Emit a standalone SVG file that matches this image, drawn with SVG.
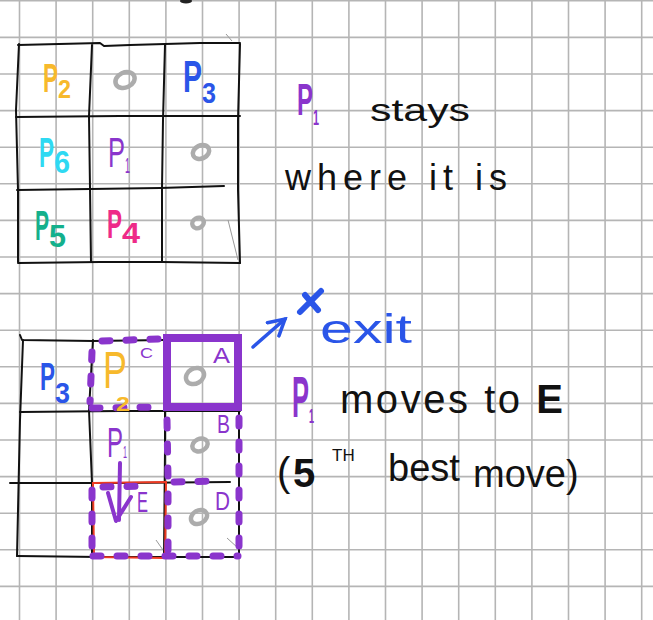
<svg xmlns="http://www.w3.org/2000/svg" width="653" height="620" viewBox="0 0 653 620">
<style>
  .grid{stroke:#b5b5b5;stroke-width:1.6;fill:none}
  .ink{stroke:#111;stroke-width:2;fill:none;stroke-linejoin:round;stroke-linecap:round}
  .faint{stroke:#999;stroke-width:1;fill:none}
  .o{fill:none;stroke:#acacac;stroke-width:4.5}
  .t{font-family:"Liberation Sans",Arial,sans-serif}
  .b{font-weight:bold}
  .blk{fill:#111}
  .pur{fill:#8a35cc}
  .yel{fill:#f7b92c}
  .blu{fill:#2a55e8}
  .cya{fill:#2fd9f2}
  .grn{fill:#14b08c}
  .pnk{fill:#ee2a88}
  .dots{fill:none;stroke:#8a35cc;stroke-width:7;stroke-linecap:round;stroke-dasharray:8 16}
</style>
<defs>
  <marker id="arrowBlue" viewBox="0 0 12 12" refX="10" refY="6" markerWidth="6" markerHeight="6" orient="auto" markerUnits="strokeWidth">
    <path d="M1,1 L10,6 L1,11" fill="none" stroke="#2a55e8" stroke-width="2" stroke-linecap="round"/>
  </marker>
</defs>
<rect width="653" height="620" fill="#ffffff"/>
<g id="grid-paper" class="grid">
  <path d="M19.5,0V620M56.1,0V620M92.7,0V620M129.3,0V620M165.9,0V620M202.5,0V620M239.1,0V620M275.7,0V620M312.3,0V620M348.9,0V620M385.5,0V620M422.1,0V620M458.7,0V620M495.3,0V620M531.9,0V620M568.5,0V620M605.1,0V620M641.7,0V620"/>
  <path d="M0,0.8H653M0,37.4H653M0,74H653M0,110.6H653M0,147.2H653M0,183.8H653M0,220.4H653M0,257H653M0,293.6H653M0,330.2H653M0,366.8H653M0,403.4H653M0,440H653M0,476.6H653M0,513.2H653M0,549.8H653M0,586.4H653"/>
</g>
<ellipse cx="186" cy="1" rx="6" ry="2.5" fill="#222"/>
<g id="board-1">
  <g id="board-1-lines" class="ink">
    <path d="M18,45 L100,43 L104,46 L130,45 L200,43 L240,43"/>
    <path d="M19,44 L16,110 L18,190 L18,262"/>
    <path d="M240,44 L238,120 L238,190 L240,263"/>
    <path d="M18,263 L100,262 L162,262 L240,263"/>
    <path d="M92,45 L89,116 L90,188 L91,262"/>
    <path d="M165,45 L163,120 L162,188 L162,262"/>
    <path d="M16,117 L120,116 L240,116"/>
    <path d="M17,190 L90,189 L160,188 L224,186"/>
  </g>
  <g class="faint">
    <path d="M226,34 L232,41"/>
    <path d="M228,220 L238,260"/>
  </g>
  <g id="b1-p2"><text class="t b yel" x="43" y="92" font-size="40"><tspan textLength="15" lengthAdjust="spacingAndGlyphs">P</tspan><tspan dy="6" font-size="25" textLength="13" lengthAdjust="spacingAndGlyphs">2</tspan></text></g>
  <g id="b1-empty-top"><ellipse class="o" cx="125" cy="80" rx="10" ry="7.5" transform="rotate(-25 125 80)"/></g>
  <g id="b1-p3"><text class="t b blu" x="183" y="92" font-size="44"><tspan textLength="19" lengthAdjust="spacingAndGlyphs">P</tspan><tspan dy="11" font-size="30" textLength="14" lengthAdjust="spacingAndGlyphs">3</tspan></text></g>
  <g id="b1-p6"><text class="t b cya" x="39" y="167" font-size="42"><tspan textLength="15" lengthAdjust="spacingAndGlyphs">P</tspan><tspan dy="6" font-size="31" textLength="16" lengthAdjust="spacingAndGlyphs">6</tspan></text></g>
  <g id="b1-p1"><text class="t pur" x="108" y="167" font-size="42"><tspan textLength="17" lengthAdjust="spacingAndGlyphs">P</tspan><tspan dy="6" font-size="22" textLength="5" lengthAdjust="spacingAndGlyphs">1</tspan></text></g>
  <g id="b1-empty-right"><ellipse class="o" cx="201" cy="152" rx="8.5" ry="6.5" transform="rotate(-25 201 152)"/></g>
  <g id="b1-p5"><text class="t b grn" x="35" y="240" font-size="42"><tspan textLength="14" lengthAdjust="spacingAndGlyphs">P</tspan><tspan dy="7" font-size="32" textLength="17" lengthAdjust="spacingAndGlyphs">5</tspan></text></g>
  <g id="b1-p4"><text class="t b pnk" x="107" y="238" font-size="40"><tspan textLength="15" lengthAdjust="spacingAndGlyphs">P</tspan><tspan dy="5" font-size="30" textLength="18" lengthAdjust="spacingAndGlyphs">4</tspan></text></g>
  <g id="b1-empty-bottom"><ellipse class="o" cx="198" cy="223" rx="6" ry="5" transform="rotate(-30 198 223)"/></g>
</g>
<g id="note-1">
  <text class="t pur b" x="297" y="115" font-size="44"><tspan textLength="16" lengthAdjust="spacingAndGlyphs">P</tspan><tspan dy="10" font-size="22" textLength="6" lengthAdjust="spacingAndGlyphs">1</tspan></text>
  <text class="t blk" x="370" y="121" font-size="32" textLength="100" lengthAdjust="spacingAndGlyphs">stays</text>
  <text class="t blk" x="285" y="190" font-size="36" textLength="222" lengthAdjust="spacing">where it is</text>
</g>
<g id="board-2">
  <g id="board-2-lines" class="ink">
    <path d="M20,335 L22,340 L93,341 L165,340 L240,339"/>
    <path d="M23,340 L20,420 L17,556"/>
    <path d="M17,556 L100,557 L240,557"/>
    <path d="M239,339 L239,556"/>
    <path d="M93,340 L89,410 L92,483 L92,556"/>
    <path d="M165,340 L165,450 L164,556"/>
    <path d="M20,412 L120,411 L240,411"/>
    <path d="M10,483 L120,483 L230,482"/>
  </g>
  <g class="faint">
    <path d="M156,540 L163,550"/>
    <path d="M227,538 L238,548"/>
  </g>
  <g id="cell-E-box"><path d="M93,483 L166,482 L165,558 L94,557 Z" fill="none" stroke="#ee3a22" stroke-width="2"/></g>
  <g id="cell-C-outline" class="dots">
    <path d="M102,341 L158,339"/>
    <path d="M92,352 L90,402"/>
    <path d="M92,408 L160,407"/>
  </g>
  <g id="cell-BD-outline" class="dots">
    <path d="M167,420 L168,478"/>
    <path d="M174,482 L214,481"/>
    <path d="M239,418 L239,552"/>
    <path d="M93,556 L238,556"/>
  </g>
  <g id="cell-E-outline" class="dots">
    <path d="M92,490 L92,550"/>
    <path d="M103,487 L150,486"/>
    <path d="M168,494 L168,550"/>
  </g>
  <g id="cell-A"><rect x="167" y="338" width="71" height="69" fill="none" stroke="#8a35cc" stroke-width="8"/>
    <text class="t pur" x="213" y="363" font-size="22" textLength="17" lengthAdjust="spacingAndGlyphs">A</text>
    <ellipse class="o" cx="195" cy="376" rx="9.5" ry="7.5" transform="rotate(-30 195 376)"/></g>
  <g id="b2-p3"><text class="t b blu" x="40" y="390" font-size="38"><tspan textLength="15" lengthAdjust="spacingAndGlyphs">P</tspan><tspan dy="13" font-size="30" textLength="15" lengthAdjust="spacingAndGlyphs">3</tspan></text></g>
  <g id="b2-p2"><text class="t yel" x="103" y="388" font-size="52"><tspan textLength="24" lengthAdjust="spacingAndGlyphs">P</tspan><tspan class="b" dx="-11" dy="23" font-size="20" textLength="14" lengthAdjust="spacingAndGlyphs">2</tspan></text></g>
  <g id="cell-C"><text class="t pur" x="140" y="358" font-size="15" textLength="13" lengthAdjust="spacingAndGlyphs">C</text></g>
  <g id="cell-B"><text class="t pur" x="217" y="433" font-size="25" textLength="13" lengthAdjust="spacingAndGlyphs">B</text>
    <ellipse class="o" cx="200" cy="445" rx="8" ry="6" transform="rotate(-25 200 445)"/></g>
  <g id="cell-D"><text class="t pur" x="215" y="510" font-size="25" textLength="15" lengthAdjust="spacingAndGlyphs">D</text>
    <ellipse class="o" cx="199" cy="517" rx="8.5" ry="6.5" transform="rotate(-30 199 517)"/></g>
  <g id="b2-p1"><text class="t pur" x="107" y="457" font-size="42"><tspan textLength="16" lengthAdjust="spacingAndGlyphs">P</tspan><tspan dy="1" font-size="16" textLength="4" lengthAdjust="spacingAndGlyphs">1</tspan></text></g>
  <g id="cell-E"><text class="t pur" x="137" y="512" font-size="30" textLength="11" lengthAdjust="spacingAndGlyphs">E</text></g>
</g>
<g id="connectors">
  <path id="move-arrow" d="M120,463 L119,520 M108,493 L116,521 L131,497" fill="none" stroke="#8a35cc" stroke-width="4" stroke-linecap="round" stroke-linejoin="round"/>
  <path id="exit-arrow" d="M253,347 L285,319" fill="none" stroke="#2a55e8" stroke-width="3.5" stroke-linecap="round" marker-end="url(#arrowBlue)"/>
</g>
<g id="exit">
  <path d="M300,312 L321,291 M305,295 L318,310" fill="none" stroke="#2a55e8" stroke-width="6" stroke-linecap="round"/>
  <text class="t blu" x="320" y="343" font-size="40" textLength="92" lengthAdjust="spacingAndGlyphs">exit</text>
</g>
<g id="note-2">
  <text class="t pur b" x="292" y="417" font-size="58"><tspan textLength="17" lengthAdjust="spacingAndGlyphs">P</tspan><tspan dy="6" font-size="20" textLength="5" lengthAdjust="spacingAndGlyphs">1</tspan></text>
  <text class="t blk" x="340" y="413" font-size="40" textLength="223" lengthAdjust="spacing">moves to <tspan class="b">E</tspan></text>
  <text class="t blk" font-size="38"><tspan x="277" y="486" font-size="40">(</tspan><tspan class="b" x="293" y="487" font-size="40">5</tspan><tspan x="332" y="461" font-size="17">TH</tspan><tspan x="388" y="481">best</tspan><tspan x="473" y="487">move)</tspan></text>
</g>
</svg>
